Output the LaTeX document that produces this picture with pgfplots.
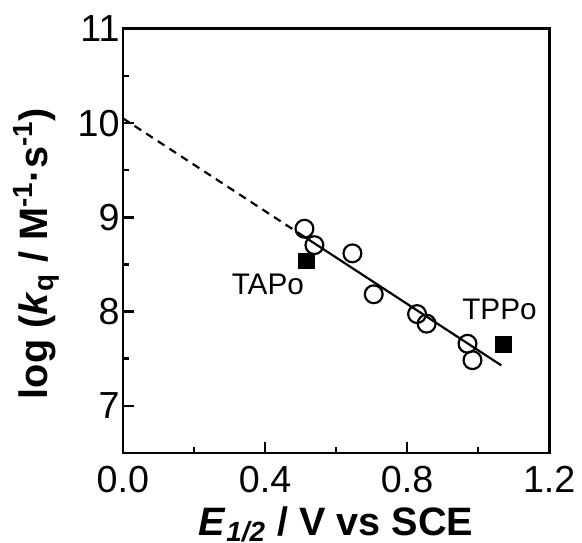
\documentclass[border=0pt]{standalone}
\usepackage{fontspec}
\setmainfont{Liberation Sans}
\usepackage{pgfplots}
\pgfplotsset{compat=1.18}
\begin{document}
\begin{tikzpicture}
\begin{axis}[
    scale only axis,
    width=215pt, height=214pt,
    xmin=0, xmax=1.2, ymin=6.5, ymax=11,
    xtick={0,0.4,0.8,1.2}, minor xtick={0.2,0.6,1.0},
    ytick={7,8,9,10,11}, minor ytick={7.5,8.5,9.5,10.5},
    tick pos=left, tick align=inside,
    major tick length=5.5pt, minor tick length=3pt,
    axis line style={line width=1.3pt},
    every tick/.style={line width=1.3pt, black},
    /pgf/number format/assume math mode=true,
    tick label style={font=\fontsize{19}{19}\selectfont},
    xticklabel style={/pgf/number format/.cd, fixed, fixed zerofill, precision=1, /tikz/.cd, yshift=-3pt},
    yticklabel style={inner xsep=1.5pt},
    xlabel={\textbf{\textit{E}\textsubscript{\textit{1/2}} / V vs SCE}},
    ylabel={\textbf{log (\textit{k}\textsubscript{q} / M\textsuperscript{-1}·s\textsuperscript{-1})}},
    label style={font=\fontsize{20}{20}\selectfont},
    xlabel style={at={(axis description cs:0.5,0)}, anchor=north, inner sep=0pt, yshift=-27pt},
    % ylabel is already rotated by 90, so yshift moves it to the left
    ylabel style={at={(axis description cs:0,0.47)}, anchor=south, inner sep=0pt, yshift=32pt},
]
% extrapolated fit (dashed) and fit (solid)
\addplot[black, line width=1.1pt, dash pattern=on 4pt off 3pt] coordinates {(0,10.05) (0.50,8.82)};
\addplot[black, line width=1.1pt] coordinates {(0.50,8.82) (1.065,7.43)};
% open circles
\addplot[only marks, mark=o, mark size=4.5pt, line width=1.1pt, black] coordinates {
    (0.511,8.879) (0.539,8.705) (0.646,8.618) (0.706,8.184)
    (0.828,7.974) (0.855,7.872) (0.970,7.659) (0.984,7.485)
};
% filled squares
\addplot[only marks, mark=square*, mark size=4pt, black] coordinates {
    (0.517,8.538) (1.070,7.652)
};
\node[font=\fontsize{15}{15}\selectfont] at (axis cs:0.408,8.29) {TAPo};
\node[font=\fontsize{15}{15}\selectfont] at (axis cs:1.06,8.02) {TPPo};
\end{axis}
\path[use as bounding box] (-62pt,-42.5pt) rectangle (229pt,228.5pt);
\end{tikzpicture}
\end{document}
